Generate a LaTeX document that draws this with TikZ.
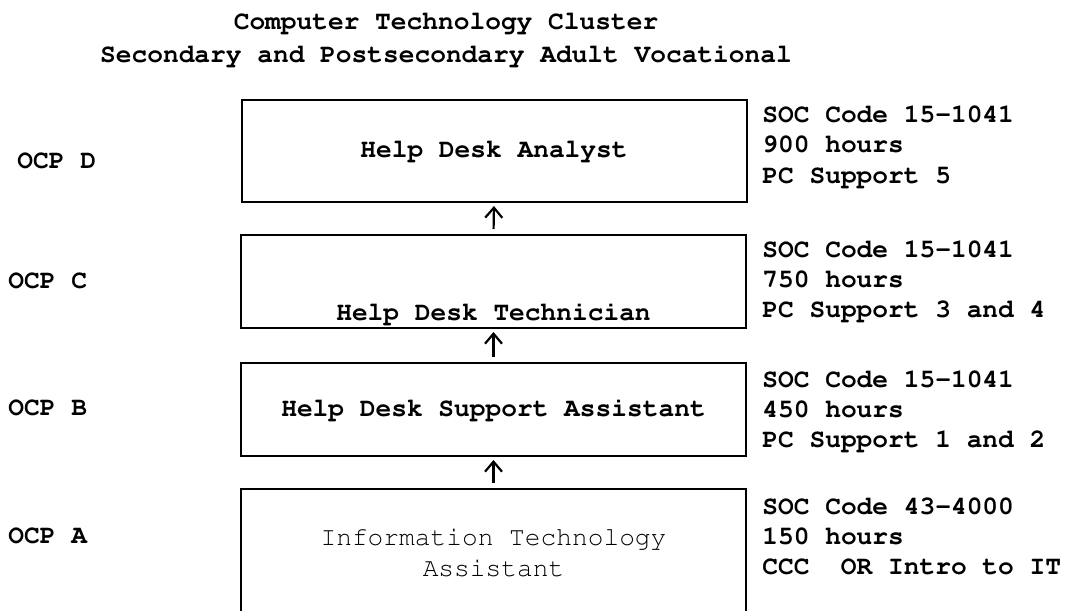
\documentclass[tikz,border=0pt]{standalone}
\usepackage[T1]{fontenc}
\usepackage{courier}
\usetikzlibrary{arrows.meta}

\begin{document}
\begin{tikzpicture}[x=0.5pt,y=-0.5pt,
    every node/.style={font=\ttfamily\bfseries\fontsize{13.1}{15}\selectfont, inner sep=0pt},
    job/.style={draw, line width=1pt, minimum width=252.5pt},
    info/.style={anchor=base west, align=left},
    ocp/.style={anchor=base west},
    up/.style={-{Straight Barb[length=5pt,width=8.5pt]}, line width=1.1pt, shorten <=2.5pt, shorten >=1.5pt}]
  \clip (0,0) rectangle (1070,610);
  % heading
  \node[anchor=base] (title1) at (446,30) {Computer Technology Cluster};
  \node[anchor=base] (title2) at (446,63) {Secondary and Postsecondary Adult Vocational};
  % the four boxes, top to bottom
  \node[job, minimum height=51pt] (d) at (494,151) {Help Desk Analyst};
  \node[job, minimum height=46.5pt,
        label={[anchor=base,yshift=4.5pt]south:Help Desk Technician}] (c) at (493.5,281.5) {};
  \node[job, minimum height=46.5pt] (b) at (493.5,409.5) {Help Desk Support Assistant};
  \node[job, minimum height=63.5pt, align=center,
        font=\ttfamily\mdseries\fontsize{13.1}{15.5}\selectfont] (a) at (493.5,552.5) {Information Technology\\Assistant};
  % arrows between the boxes
  \foreach \lo/\hi in {c/d, b/c, a/b}
    \draw[up] (\lo.north) -- (\hi.south);
  % OCP letters on the left
  \foreach \l/\x/\y in {D/17/168, C/8/288, B/8/415, A/8/543}
    \node[ocp] (ocp\l) at (\x,\y) {OCP \l};
  % codes and hours on the right (base = last line)
  \foreach \n/\y/\t in {d/183/{SOC Code 15-1041\\900 hours\\PC Support 5},
                        c/317/{SOC Code 15-1041\\750 hours\\PC Support 3 and 4},
                        b/447/{SOC Code 15-1041\\450 hours\\PC Support 1 and 2},
                        a/574/{SOC Code 43-4000\\150 hours\\CCC\ \ OR Intro to IT}}
    \node[info] (info\n) at (762,\y) {\t};
\end{tikzpicture}
\end{document}
